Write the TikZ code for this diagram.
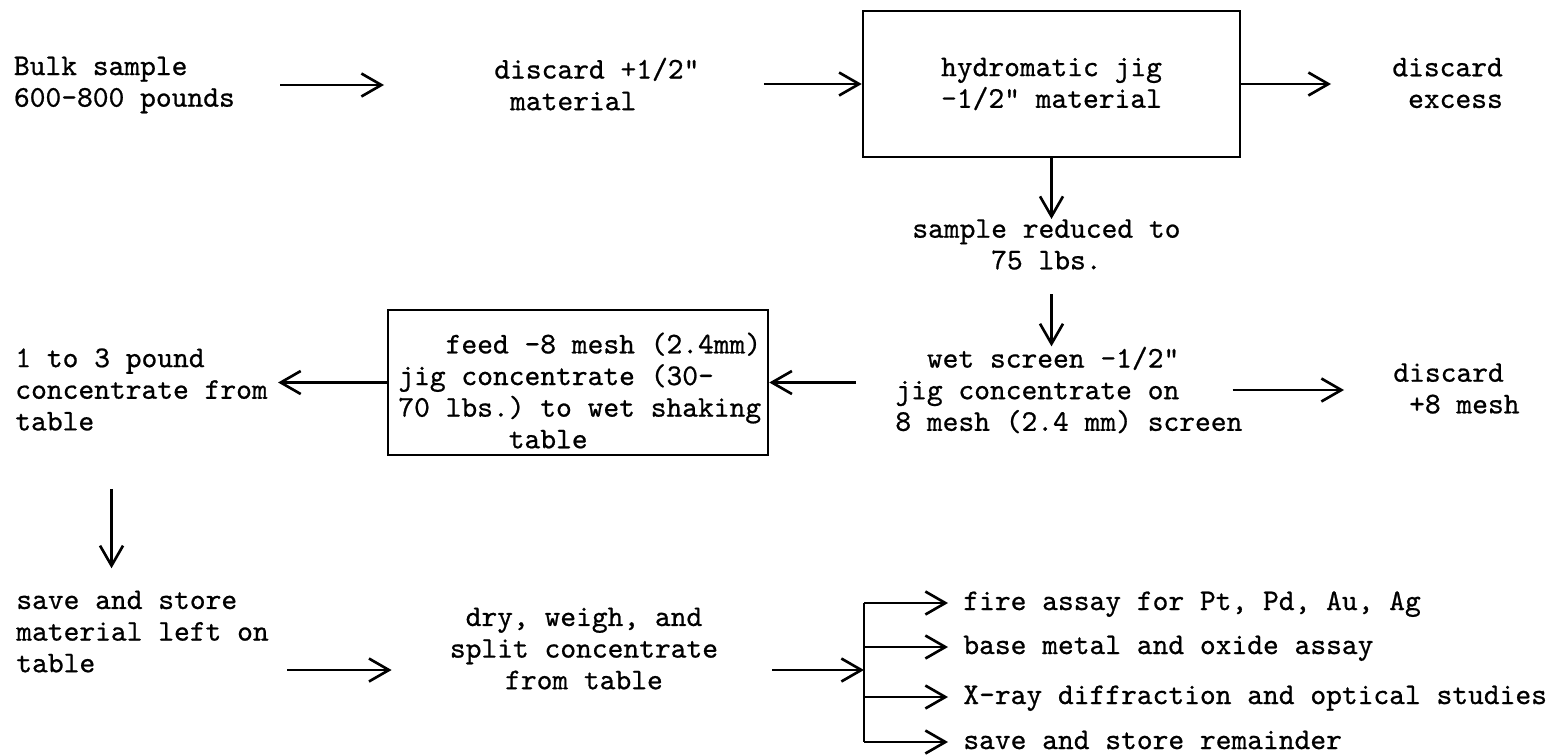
\documentclass[tikz,border=0pt]{standalone}
\usepackage{fontspec}
\setmonofont{lmmono10-regular.otf}[FakeBold=0.7]
\usetikzlibrary{arrows.meta}

\newcommand{\typew}{\fontsize{17.1}{18}\selectfont\ttfamily}

\tikzset{
  arr/.style={-{Straight Barb[length=0.4cm,width=0.46cm]}, line width=1.5pt},
  txt/.style={inner sep=0pt, align=left, anchor=west, font=\typew},
  box/.style={draw, line width=1.5pt, inner sep=0pt},
  row/.style={txt, text height=11.8pt, text depth=3.8pt}
}

\begin{document}
\begin{tikzpicture}[x=0.02cm, y=-0.02cm]
	\useasboundingbox (0,0) rectangle (1561,755);

	% Top row
	\node[txt] (bulk) at (13.6,85) {Bulk sample\\600-800 pounds};
	\node[txt] (cut) at (494,84) {discard +1/2"\\~material};
	\node[box, font=\typew, align=center, minimum width=7.54cm, minimum height=2.92cm] (jig) at (1051.5,84)
	      {hydromatic jig\\-1/2" material};
	\node[txt] (excess) at (1392,83) {discard\\~excess};
	\node[txt] (reduced) at (912,244.5) {sample reduced to\\~~~~~75 lbs.};

	% Middle row
	\node[txt] (wet) at (895,390) {~~wet screen -1/2"\\jig concentrate on\\8 mesh (2.4 mm) screen};
	\node[txt] (plus8) at (1393,388.5) {discard\\~+8 mesh};
	\node[box, minimum width=7.6cm, minimum height=2.9cm] (feed) at (578,382.5) {};
	\node[txt] (feedtxt) at (398,390.5)
	      {~~~feed -8 mesh (2.4mm)\\jig concentrate (30-\\70 lbs.) to wet shaking\\~~~~~~~table};
	\node[txt] (conc) at (15,389.5) {1 to 3 pound\\concentrate from\\table};

	% Bottom row
	\node[txt] (store) at (16,631.5) {save and store\\material left on\\table};
	\node[txt, anchor=center, align=center] (dry) at (584,648.5) {dry, weigh, and\\split concentrate\\from table};
	\coordinate (fork) at (864,670);
	\node[row] (fire) at (963,603) {fire assay for Pt, Pd, Au, Ag};
	\node[row] (base) at (963,647) {base metal and oxide assay};
	\node[row] (xray) at (963,697) {X-ray diffraction and optical studies};
	\node[row] (rest) at (963,742) {save and store remainder};

	% Arrows
	\draw[arr, shorten <=0.9cm, shorten >=2.2cm] (bulk.east) -- (bulk.east -| cut.west);
	\draw[arr, shorten <=1.28cm] (cut.east) -- (cut.east -| jig.west);
	\draw[arr, shorten >=1.22cm] (jig.east) -- (jig.east -| excess.west);
	\draw[arr] (jig.south) -- (jig.south |- reduced.north);
	\draw[arr, shorten <=0.48cm] (reduced.south -| jig.south) -- (wet.north -| jig.south);
	\draw[arr, shorten <=0.78cm] (feed.east -| wet.west) -- (feed.east);
	\draw[arr, shorten >=0.2cm] (feed.west) -- (feed.west -| conc.east);
	\draw[arr, shorten >=0.98cm] ([xshift=-0.2cm]wet.east) -- (wet.east -| plus8.west);
	\draw[arr, shorten <=1.16cm, shorten >=0.44cm] ([xshift=-0.6cm]conc.south) -- ([xshift=-0.6cm]conc.south |- store.north);
	\draw[arr, shorten <=0.36cm, shorten >=1.16cm] (store.east |- fork) -- (dry.west |- fork);
	\draw[arr, shorten <=1.08cm] (dry.east |- fork) -- (fork);

	% Split to the four tests
	\draw[line width=1.5pt] (fork |- fire.west) -- (fork |- rest.west);
	\foreach \n in {fire,base,xray,rest}
		\draw[arr, shorten >=0.3cm] (fork |- \n.west) -- (\n.west);

\end{tikzpicture}
\end{document}
